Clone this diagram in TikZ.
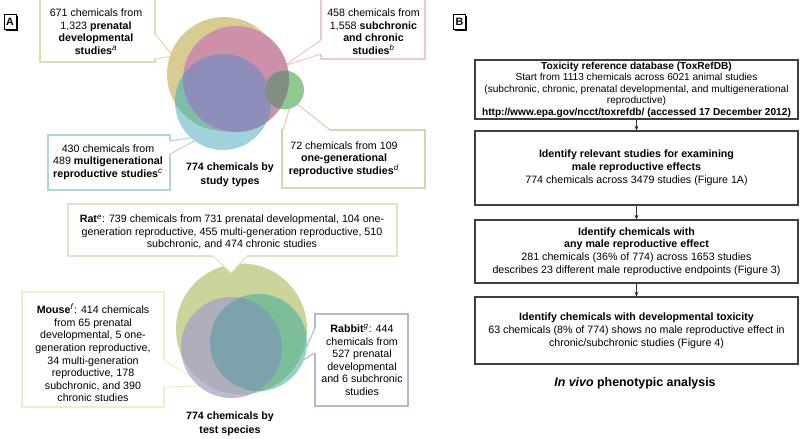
\documentclass[tikz,border=0pt]{standalone}
\usepackage{fontspec}
\setmainfont{Liberation Sans}
\usetikzlibrary{arrows.meta,shadows}
\definecolor{tanC}{RGB}{216,204,146}
\definecolor{pinkC}{RGB}{204,144,168}
\definecolor{purpC}{RGB}{142,142,186}
\definecolor{cyanC}{RGB}{160,210,220}
\definecolor{tealC}{RGB}{124,190,168}
\definecolor{greenC}{RGB}{144,200,144}
\definecolor{grayC}{RGB}{130,142,130}
\definecolor{tanB}{RGB}{226,218,180}
\definecolor{pinkB}{RGB}{240,200,208}
\definecolor{cyanB}{RGB}{178,214,222}
\definecolor{greenB}{RGB}{198,222,170}
\definecolor{ratC}{RGB}{204,212,156}
\definecolor{mouseC}{RGB}{176,174,188}
\definecolor{mouseO}{RGB}{188,188,210}
\definecolor{rabC}{RGB}{124,190,152}
\definecolor{rabO}{RGB}{154,208,202}
\definecolor{bothC}{RGB}{124,162,174}
\definecolor{ratB}{RGB}{226,226,202}
\definecolor{mouseB}{RGB}{242,238,196}
\definecolor{rabB}{RGB}{176,186,212}
\begin{document}
\begin{tikzpicture}[x=0.75pt,y=-0.75pt,
  txt/.style={font=\fontsize{8}{9.4}\selectfont, align=center, inner sep=0pt},
  btxt/.style={font=\fontsize{8}{10.5}\selectfont\bfseries, align=center, inner sep=0pt},
  cbox/.style={draw, line width=0.8pt, fill=white, inner sep=0pt},
  wedge/.style={line width=0.8pt},
  flow/.style={draw=black!75, line width=0.8pt, minimum width=242.25pt, inner sep=0pt, align=center, font=\fontsize{8}{9.6}\selectfont},
  arr/.style={-{Stealth[length=3.5pt,width=3pt]}, line width=0.6pt, black!80},
  lab/.style={draw=black, line width=0.5pt, fill=white, minimum width=9pt, minimum height=11.25pt, inner sep=0pt, font=\fontsize{8}{9}\selectfont\bfseries, drop shadow={shadow xshift=1.3pt, shadow yshift=-1.3pt, fill=black, opacity=1}}
]
\useasboundingbox (0,0) rectangle (800,439);

% ---------- panel labels ----------
\node[lab] (labA) at (10,21.5) {A};
\node[lab] (labB) at (459.5,21.5) {B};

% ---------- top Venn callouts ----------
\node[cbox, draw=tanB, minimum width=86.25pt, minimum height=48.75pt] (b671) at (97.5,29.5) {};
\coordinate (p671) at (173,56);
\fill[white] (155,34) -- (p671) -- (155,59) -- (152,59) -- (152,34) -- cycle;
\draw[wedge, tanB] (155,34) -- (p671) -- (155,59);
\node[txt] (t671) at (96,31.5) {671 chemicals from\\1,323 \textbf{prenatal}\\\textbf{developmental}\\\textbf{studies}\textsuperscript{\textit{a}}};

\node[cbox, draw=pinkB, minimum width=78pt, minimum height=46.5pt] (b458) at (373,28) {};
\coordinate (p458) at (284,66);
\fill[white] (321,40) -- (p458) -- (321,54) -- (324,54) -- (324,40) -- cycle;
\draw[wedge, pinkB] (321,40) -- (p458) -- (321,54);
\node[txt] (t458) at (373.5,31.5) {458 chemicals from\\1,558 \textbf{subchronic}\\\textbf{and chronic}\\\textbf{studies}\textsuperscript{\textit{b}}};

\node[cbox, draw=cyanB, minimum width=91.5pt, minimum height=41.25pt] (b430) at (109,162.5) {};
\coordinate (p430) at (204,136);
\fill[white] (170,141) -- (p430) -- (170,154) -- (167,154) -- (167,141) -- cycle;
\draw[wedge, cyanB] (170,141) -- (p430) -- (170,154);
\node[txt] (t430) at (108,162) {430 chemicals from\\489 \textbf{multigenerational}\\\textbf{reproductive studies}\textsuperscript{\textit{c}}};

\node[cbox, draw=greenB, minimum width=107.25pt, minimum height=43.5pt] (b72) at (353.5,159) {};
\coordinate (p72) at (292,100);
\fill[white] (283,130) -- (p72) -- (330,130) -- (330,133) -- (283,133) -- cycle;
\draw[wedge, greenB] (283,130) -- (p72) -- (330,130);
\node[txt] (t72) at (344,159) {72 chemicals from 109\\\textbf{one-generational}\\\textbf{reproductive studies}\textsuperscript{\textit{d}}};

% ---------- top Venn circles ----------
\fill[tanC] (224,74) circle (57);
\fill[cyanC] (223,102) circle (48);
\begin{scope}
  \clip (224,74) circle (57);
  \fill[tealC] (223,102) circle (48);
\end{scope}
\fill[pinkC] (236,79) circle (53);
\begin{scope}
  \clip (236,79) circle (53);
  \fill[purpC] (223,102) circle (48);
\end{scope}
\fill[greenC] (284.5,90) circle (19.5);
\begin{scope}
  \clip (236,79) circle (53);
  \fill[grayC] (284.5,90) circle (19.5);
\end{scope}

\node[btxt] (lTop) at (230,175) {774 chemicals by\\study types};

% ---------- bottom Venn callouts ----------
\node[cbox, draw=mouseB, minimum width=106.5pt, minimum height=86.25pt] (bMouse) at (93,349.5) {};
\coordinate (pMouse) at (206,386);
\fill[white] (164,360) -- (pMouse) -- (164,387) -- (161,387) -- (161,360) -- cycle;
\draw[wedge, mouseB] (164,360) -- (pMouse) -- (164,387);
\node[txt, font=\fontsize{8}{9.45}\selectfont] (tMouse) at (93,353) {\textbf{Mouse}\textsuperscript{\textit{f}}: 414 chemicals\\from 65 prenatal\\developmental, 5 one-\\generation reproductive,\\34 multi-generation\\reproductive, 178\\subchronic, and 390\\chronic studies};

\node[cbox, draw=rabB, minimum width=69.75pt, minimum height=69pt] (bRab) at (361.5,360) {};
\coordinate (pRab) at (300,362);
\fill[white] (315,328) -- (pRab) -- (315,353) -- (318,353) -- (318,328) -- cycle;
\draw[wedge, rabB] (315,328) -- (pRab) -- (315,353);
\node[txt] (tRab) at (362,360) {\textbf{Rabbit}\textsuperscript{\textit{g}}: 444\\chemicals from\\527 prenatal\\developmental\\and 6 subchronic\\studies};

% ---------- bottom Venn circles ----------
\fill[ratC] (241.5,329) circle (65.5);
\fill[mouseO] (231.5,347.5) circle (50.5);
\begin{scope}
  \clip (241.5,329) circle (65.5);
  \fill[mouseC] (231.5,347.5) circle (50.5);
\end{scope}
\fill[rabO] (258.5,342.5) circle (48.5);
\begin{scope}
  \clip (241.5,329) circle (65.5);
  \fill[rabC] (258.5,342.5) circle (48.5);
\end{scope}
\begin{scope}
  \clip (231.5,347.5) circle (50.5);
  \fill[bothC] (258.5,342.5) circle (48.5);
\end{scope}

% rat callout drawn over the circle
\node[cbox, draw=ratB, minimum width=246.75pt, minimum height=39pt] (bRat) at (232.5,230) {};
\coordinate (pRat) at (231,273);
\fill[white] (213,256) -- (pRat) -- (247,256) -- (247,253) -- (213,253) -- cycle;
\draw[wedge, ratB] (213,256) -- (pRat) -- (247,256);
\node[txt] (tRat) at (232,232) {\textbf{Rat}\textsuperscript{\textit{e}}: 739 chemicals from 731 prenatal developmental, 104 one-\\generation reproductive, 455 multi-generation reproductive, 510\\subchronic, and 474 chronic studies};

\node[btxt] (lBot) at (230,423.5) {774 chemicals by\\test species};

% ---------- panel B flow ----------
\node[flow, minimum height=44.25pt, font=\fontsize{7.6}{8.6}\selectfont] (box1) at (636.5,89.5) {\textbf{Toxicity reference database (ToxRefDB)}\\Start from 1113 chemicals across 6021 animal studies\\(subchronic, chronic, prenatal developmental, and multigenerational\\reproductive)\\\textbf{http://www.epa.gov/ncct/toxrefdb/ (accessed 17 December 2012)}};
\node[flow, minimum height=55.5pt] (box2) at (636.5,168) {\textbf{Identify relevant studies for examining}\\\textbf{male reproductive effects}\\774 chemicals across 3479 studies (Figure 1A)};
\node[flow, minimum height=47.25pt] (box3) at (636.5,251.5) {\textbf{Identify chemicals with}\\\textbf{any male reproductive effect}\\281 chemicals (36\% of 774) across 1653 studies\\describes 23 different male reproductive endpoints (Figure 3)};
\node[flow, minimum height=50.25pt] (box4) at (636.5,330.5) {\textbf{Identify chemicals with developmental toxicity}\\63 chemicals (8\% of 774) shows no male reproductive effect in\\chronic/subchronic studies (Figure 4)};
\draw[arr] (box1.south) -- (box2.north);
\draw[arr] (box2.south) -- (box3.north);
\draw[arr] (box3.south) -- (box4.north);
\node[inner sep=0pt, font=\fontsize{9.3}{11}\selectfont\bfseries] (title) at (635,383) {\textit{In vivo} phenotypic analysis};
\end{tikzpicture}
\end{document}
